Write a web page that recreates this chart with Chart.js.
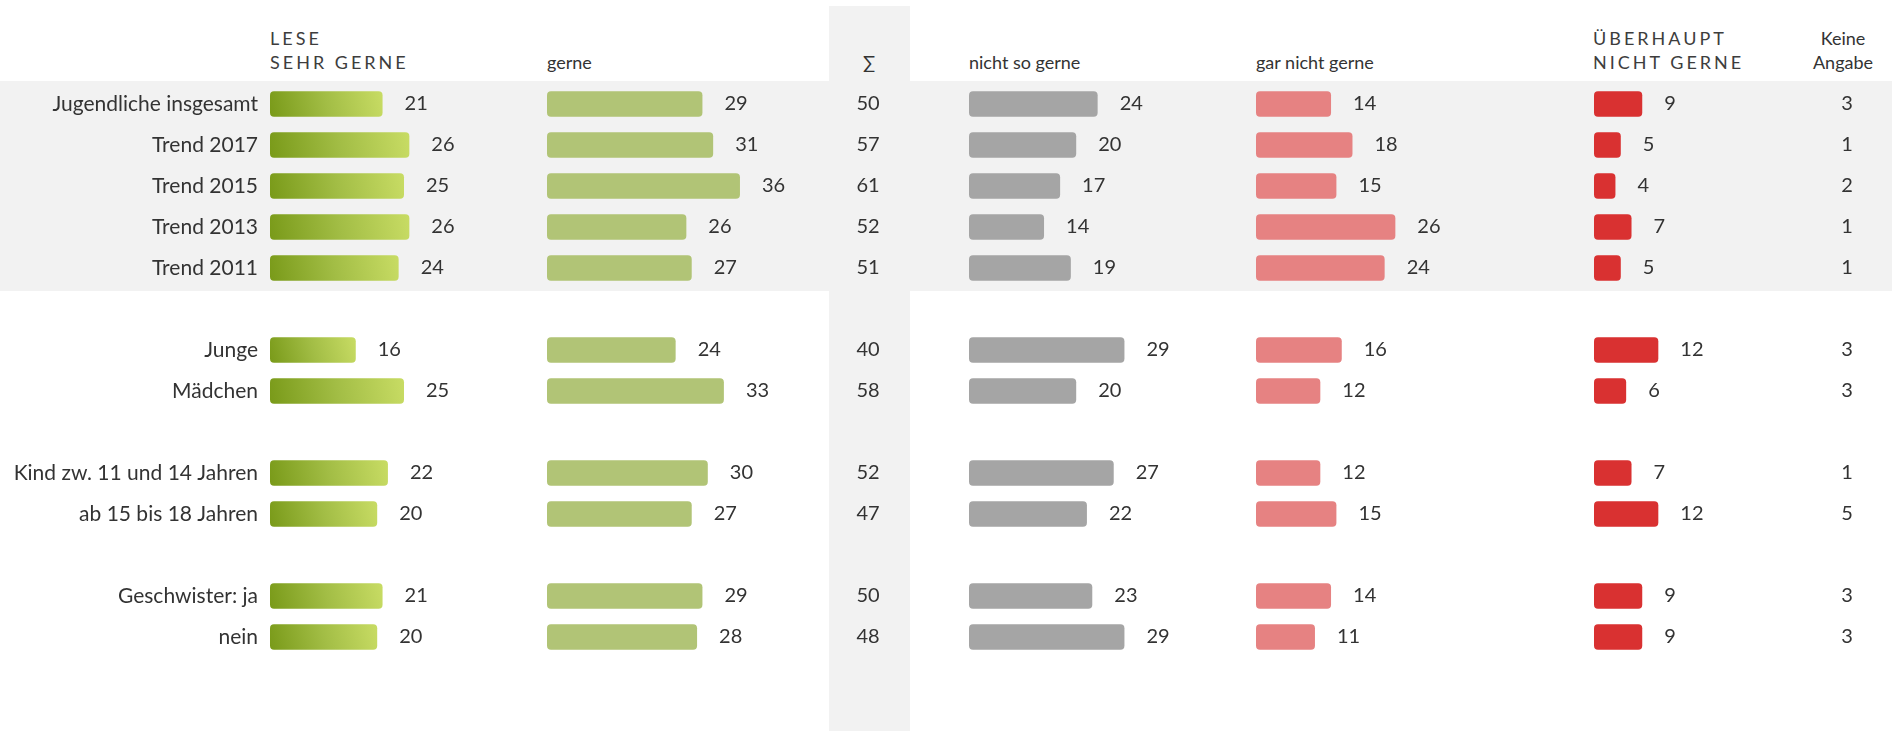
<!DOCTYPE html>
<html>
<head>
<meta charset="utf-8">
<script src="https://cdn.jsdelivr.net/npm/chart.js@4.4.1/dist/chart.umd.min.js"></script>
<style>
  html, body { margin:0; padding:0; background:#fff; width:1892px; height:731px; overflow:hidden; font-family:Lato, "Noto Sans", sans-serif; color:#333; }
  .band { position:absolute; left:0; top:81px; width:1892px; height:210px; background:#f2f2f2; }
  .sumcol { position:absolute; left:829px; top:6px; width:81px; height:725px; background:#f2f2f2; }
  .hdr { position:absolute; font-size:18px; line-height:23.5px; color:#333; white-space:nowrap; }
  .caps { letter-spacing:3px; color:#3d3d3d; }
  .one { top:51px; }
  .two { top:27px; }
  canvas { position:absolute; top:0; }
</style>
</head>
<body>
<div class="band"></div>
<div class="sumcol"></div>

<div class="hdr caps two" style="left:270px">LESE<br>SEHR GERNE</div>
<div class="hdr one" style="left:547px">gerne</div>
<div class="hdr one" style="left:829px;width:80px;text-align:center">∑</div>
<div class="hdr one" style="left:969px">nicht so gerne</div>
<div class="hdr one" style="left:1256px">gar nicht gerne</div>
<div class="hdr caps two" style="left:1593px">ÜBERHAUPT<br>NICHT GERNE</div>
<div class="hdr two" style="left:1797px;width:92px;text-align:center">Keine<br>Angabe</div>

<canvas id="c1" width="560" height="731" style="left:0px"></canvas>
<canvas id="c2" width="290" height="731" style="left:547px"></canvas>
<canvas id="cSum" width="80" height="731" style="left:828px"></canvas>
<canvas id="c3" width="290" height="731" style="left:969px"></canvas>
<canvas id="c4" width="290" height="731" style="left:1256px"></canvas>
<canvas id="c5" width="290" height="731" style="left:1594px"></canvas>
<canvas id="cKA" width="60" height="731" style="left:1817px"></canvas>

<script>
// ---- data ----
const categories = ['Jugendliche insgesamt','Trend 2017','Trend 2015','Trend 2013','Trend 2011','',
  'Junge','Mädchen','','Kind zw. 11 und 14 Jahren','ab 15 bis 18 Jahren','','Geschwister: ja','nein'];
const sehrGerne       = [21,26,25,26,24,null,16,25,null,22,20,null,21,20];
const gerne           = [29,31,36,26,27,null,24,33,null,30,27,null,29,28];
const nichtSoGerne    = [24,20,17,14,19,null,29,20,null,27,22,null,23,29];
const garNichtGerne   = [14,18,15,26,24,null,16,12,null,12,15,null,14,11];
const ueberhauptNicht = [9,5,4,7,5,null,12,6,null,7,12,null,9,9];
const summe           = [50,57,61,52,51,null,40,58,null,52,47,null,50,48];
const keineAngabe     = [3,1,2,1,1,null,3,3,null,1,5,null,3,3];

// ---- layout constants ----
const X_MAX = 40;
const AREA_W = 214.4;        // 5.36 px per percentage point
const LABEL_W = 270;
const PAD_TOP = 83.5, PAD_BOTTOM = 73.5;
const TEXT_COLOR = '#333';

function labelPlugin(columnValues) {
  return {
    id: 'valueLabels',
    afterDatasetsDraw(chart) {
      const ctx = chart.ctx;
      ctx.save();
      ctx.font = '20px Lato';
      ctx.fillStyle = TEXT_COLOR;
      ctx.textBaseline = 'middle';
      const ys = chart.scales.y;
      if (columnValues) {
        ctx.textAlign = 'center';
        const cx = (chart.chartArea.left + chart.chartArea.right) / 2;
        columnValues.forEach((v, i) => {
          if (v == null) return;
          ctx.fillText(String(v), cx, ys.getPixelForValue(i));
        });
      } else {
        ctx.textAlign = 'left';
        const vals = chart.data.datasets[0].data;
        chart.getDatasetMeta(0).data.forEach((bar, i) => {
          const v = vals[i];
          if (v == null) return;
          ctx.fillText(String(v), bar.x + 22, bar.y);
        });
      }
      ctx.restore();
    }
  };
}

function greenGradient(c) {
  const fallback = '#a8c246';
  if (c.type !== 'data' || c.raw == null) return fallback;
  const chart = c.chart, xs = chart.scales.x, ys = chart.scales.y;
  if (!xs || !ys) return fallback;
  const x0 = xs.getPixelForValue(0), x1 = xs.getPixelForValue(c.raw);
  const yc = ys.getPixelForValue(c.dataIndex);
  if (![x0, x1, yc].every(Number.isFinite)) return fallback;
  const g = chart.ctx.createLinearGradient(x0, yc + 12.5, x1, yc - 12.5);
  g.addColorStop(0, '#799a19');
  g.addColorStop(0.5, '#a2bd45');
  g.addColorStop(1, '#c8dc64');
  return g;
}

function baseOptions(showLabels, padRight) {
  return {
    indexAxis: 'y',
    responsive: false,
    maintainAspectRatio: false,
    animation: false,
    layout: { padding: { top: PAD_TOP, bottom: PAD_BOTTOM, left: 0, right: padRight } },
    scales: {
      x: { display: false, min: 0, max: X_MAX },
      y: {
        display: showLabels,
        grid: { display: false, drawTicks: false },
        border: { display: false },
        ticks: { padding: 12, color: TEXT_COLOR, font: { family: 'Lato', size: 21 } },
        afterFit: showLabels ? (s) => { s.width = LABEL_W; } : undefined
      }
    },
    plugins: { legend: { display: false }, tooltip: { enabled: false } }
  };
}

function barChart(id, values, color, showLabels) {
  const canvas = document.getElementById(id);
  const padRight = canvas.width - AREA_W - (showLabels ? LABEL_W : 0);
  return new Chart(canvas, {
    type: 'bar',
    data: {
      labels: categories,
      datasets: [{
        data: values,
        backgroundColor: color,
        borderWidth: 0,
        borderRadius: 4,
        borderSkipped: false,
        barPercentage: 0.62,
        categoryPercentage: 1
      }]
    },
    options: baseOptions(showLabels, padRight),
    plugins: [labelPlugin(null)]
  });
}

function textColumn(id, values) {
  const canvas = document.getElementById(id);
  return new Chart(canvas, {
    type: 'bar',
    data: { labels: categories, datasets: [] },
    options: baseOptions(false, 0),
    plugins: [labelPlugin(values)]
  });
}

function build() {
  Chart.defaults.font.family = 'Lato';
  Chart.defaults.color = TEXT_COLOR;
  const c1 = barChart('c1', sehrGerne, greenGradient, true);
  c1.update('none');
  barChart('c2', gerne, '#b1c476', false);
  textColumn('cSum', summe);
  barChart('c3', nichtSoGerne, '#a5a5a5', false);
  barChart('c4', garNichtGerne, '#e68282', false);
  barChart('c5', ueberhauptNicht, '#d93131', false);
  textColumn('cKA', keineAngabe);
}

if (document.fonts && document.fonts.load) {
  Promise.all([document.fonts.load('20px Lato'), document.fonts.load('21px Lato')])
    .then(build, build);
} else {
  build();
}
</script>
</body>
</html>
